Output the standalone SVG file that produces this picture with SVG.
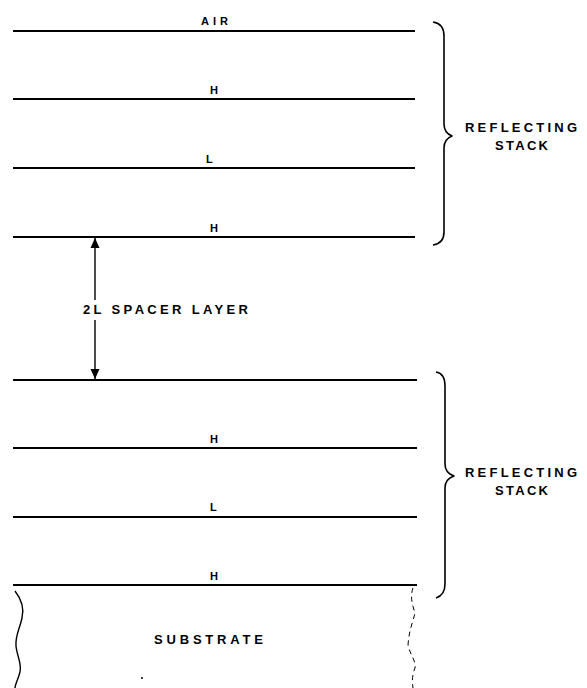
<svg xmlns="http://www.w3.org/2000/svg" width="587" height="688" viewBox="0 0 587 688">
  <style>
    .iface { stroke: #000; stroke-width: 1.8; fill: none; stroke-linecap: butt; }
    .brace { stroke: #000; stroke-width: 1.6; fill: none; stroke-linejoin: round; }
    .edge { stroke: #000; stroke-width: 1.4; fill: none; }
    .edge-dash { stroke: #000; stroke-width: 1; fill: none; stroke-dasharray: 5 4; }
    .lbl { font-family: "Liberation Sans", Arial, sans-serif; font-weight: bold; fill: #000; }
    .sm { font-size: 11px; }
    .md { font-size: 13px; }
  </style>
  <defs>
    <marker id="arrowhead" viewBox="0 0 10 18" refX="10" refY="9" markerWidth="10" markerHeight="18" markerUnits="userSpaceOnUse" orient="auto">
      <path d="M0,4.5 L10,9 L0,13.5 Z" fill="#000"/>
    </marker>
  </defs>

  <!-- upper reflecting stack -->
  <g id="interface-air">
    <line class="iface" x1="13" y1="31" x2="415" y2="31"/>
    <text class="lbl sm" x="201" y="25" textLength="27" lengthAdjust="spacing">AIR</text>
  </g>
  <g id="interface-h1">
    <line class="iface" x1="13" y1="99" x2="415" y2="99"/>
    <text class="lbl sm" x="210" y="94">H</text>
  </g>
  <g id="interface-l1">
    <line class="iface" x1="13" y1="168" x2="415" y2="168"/>
    <text class="lbl sm" x="206" y="163">L</text>
  </g>
  <g id="interface-h2">
    <line class="iface" x1="13" y1="237" x2="415" y2="237"/>
    <text class="lbl sm" x="210" y="232">H</text>
  </g>
  <g id="label-stack-top">
    <text class="lbl md" x="465" y="132" textLength="112" lengthAdjust="spacing">REFLECTING</text>
    <text class="lbl md" x="495" y="150" textLength="53" lengthAdjust="spacing">STACK</text>
  </g>

  <!-- spacer -->
  <g id="label-spacer">
    <text class="lbl md" x="83" y="314" textLength="165" lengthAdjust="spacing">2L SPACER LAYER</text>
  </g>

  <!-- lower reflecting stack -->
  <g id="interface-spacer-bottom">
    <line class="iface" x1="13" y1="380" x2="417" y2="380"/>
  </g>
  <g id="interface-h3">
    <line class="iface" x1="13" y1="448" x2="417" y2="448"/>
    <text class="lbl sm" x="210" y="443">H</text>
  </g>
  <g id="interface-l2">
    <line class="iface" x1="13" y1="517" x2="417" y2="517"/>
    <text class="lbl sm" x="210" y="511">L</text>
  </g>
  <g id="interface-h4">
    <line class="iface" x1="13" y1="585" x2="417" y2="585"/>
    <text class="lbl sm" x="210" y="580">H</text>
  </g>
  <g id="label-stack-bottom">
    <text class="lbl md" x="465" y="477" textLength="112" lengthAdjust="spacing">REFLECTING</text>
    <text class="lbl md" x="495" y="495" textLength="53" lengthAdjust="spacing">STACK</text>
  </g>

  <!-- substrate -->
  <g id="substrate">
    <path class="edge" d="M15,591 C22,600 24,610 22,618 C20,628 15,636 16,646 C17,656 22,664 20,672 C18,680 15,684 15,688"/>
    <path class="edge-dash" d="M413,588 C410,596 412,604 415,613 C413,622 409,630 408,645 C410,655 416,660 415,668 C412,675 412,682 413,688"/>
    <text class="lbl md" x="154" y="644" textLength="109" lengthAdjust="spacing">SUBSTRATE</text>
    <circle cx="142" cy="678" r="1" fill="#000"/>
  </g>

  <!-- connectors: spacer thickness arrow and stack braces -->
  <g id="connectors">
    <line class="edge" x1="95" y1="300" x2="95" y2="238" marker-end="url(#arrowhead)"/>
    <line class="edge" x1="95" y1="320" x2="95" y2="379" marker-end="url(#arrowhead)"/>
    <path class="brace" d="M433,22 C440,23 444,28 444,36 L444,124 C444,130 447,134 452,136 C447,138 444,142 444,148 L444,232 C444,240 440,244 433,245"/>
    <path class="brace" d="M436,372 C442,373 445,378 445,386 L445,464 C445,470 448,474 454,476 C448,478 445,482 445,488 L445,584 C445,592 442,596 436,598"/>
  </g>
</svg>
